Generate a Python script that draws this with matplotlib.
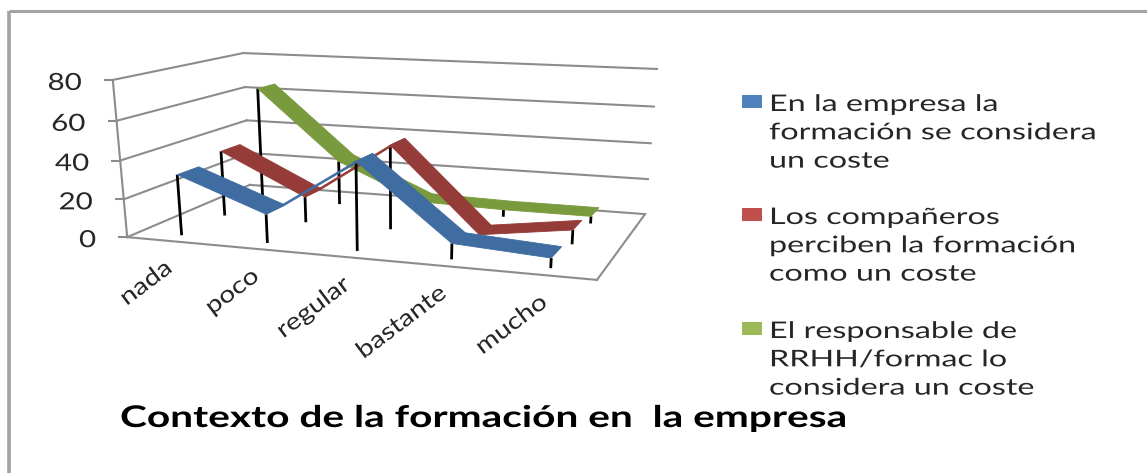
import matplotlib
matplotlib.use('Agg')
import matplotlib.pyplot as plt
import numpy as np
from matplotlib.patches import Polygon, Rectangle
from matplotlib.patheffects import AbstractPathEffect
from matplotlib.transforms import Affine2D

categories = ['nada', 'poco', 'regular', 'bastante', 'mucho']
value_ticks = [0, 20, 40, 60, 80]

empresa = [32, 15, 45, 8, 5]
companeros = [36, 14, 45, 1, 7.5]
responsable = [64, 25, 5, 4, 4]

legend_labels = ['En la empresa la\nformación se considera\nun coste',
                 'Los compañeros\nperciben la formación\ncomo un coste',
                 'El responsable de\nRRHH/formac lo\nconsidera un coste']
chart_title = 'Contexto de la formación en  la empresa'

ribbon_colors = ['#3F6CA1', '#953B38', '#7A9A3E']
legend_colors = ['#4F81BD', '#C0504D', '#9BBB59']
wall_color = '#8C8C8C'
text_color = '#262626'
frame_color = '#A3A3A3'

plt.rcParams['font.family'] = ['Lato', 'DejaVu Sans']

# corners of the plot box: (category pos, depth, value) -> pixel on the figure
box_corners = [((0, 0, 0), (127, 237)),
               ((0, 0, 80), (113, 80)),
               ((0, 1, 0), (250, 185)),
               ((0, 1, 80), (243, 53)),
               ((5, 1, 80), (657, 69)),
               ((5, 1, 0), (645, 214)),
               ((5, 0, 0), (597, 280))]


def fit_camera(corners):
    # direct linear transform, 3x4 camera matrix from the box corners
    rows = []
    for (x, d, v), (px, py) in corners:
        rows.append([x, d, v, 1, 0, 0, 0, 0, -px*x, -px*d, -px*v, -px])
        rows.append([0, 0, 0, 0, x, d, v, 1, -py*x, -py*d, -py*v, -py])
    _, _, vt = np.linalg.svd(np.array(rows, dtype=float))
    return vt[-1].reshape(3, 4)


camera = fit_camera(box_corners)


def project(x, d, v):
    p = camera @ np.array([x, d, v, 1.0])
    return p[0]/p[2], p[1]/p[2]


class WideText(AbstractPathEffect):
    # pulls the glyphs wider along the baseline, the chart's lettering is extended
    def __init__(self, stretch):
        super().__init__()
        self.stretch = stretch

    def draw_path(self, renderer, gc, tpath, affine, rgbFace=None):
        renderer.draw_path(gc, tpath, Affine2D().scale(self.stretch, 1) + affine, rgbFace)


fig = plt.figure(figsize=(11.47, 4.73), dpi=100)
ax = fig.add_axes([0, 0, 1, 1])
ax.set_xlim(0, 1147)
ax.set_ylim(473, 0)
ax.axis('off')
renderer = fig.canvas.get_renderer()


def wide_text(x, y, s, stretch, align='left', **kwargs):
    # the anchor is the start of the baseline, so right aligned text is moved back by its width
    t = ax.text(x, y, s, ha='left', va='baseline', rotation_mode='anchor', **kwargs)
    if align == 'right':
        angle = np.radians(t.get_rotation())
        t.set_rotation(0)
        width = t.get_window_extent(renderer).width*stretch
        t.set_rotation(np.degrees(angle))
        t.set_position((x - width*np.cos(angle), y + width*np.sin(angle)))
    t.set_path_effects([WideText(stretch)])
    return t


# outer frame of the chart
ax.plot([9, 9], [473, 11.5], color=frame_color, lw=2.6, solid_capstyle='butt')
ax.plot([9, 1147], [11.5, 11.5], color=frame_color, lw=2.2, solid_capstyle='butt')


def box_line(p0, p1):
    a, b = project(*p0), project(*p1)
    ax.plot([a[0], b[0]], [a[1], b[1]], color=wall_color, lw=1.5, zorder=1)


# gridlines on side and back walls, plus the floor outline
for v in value_ticks:
    box_line((0, 0, v), (0, 1, v))
    box_line((0, 1, v), (5, 1, v))
box_line((0, 0, 0), (0, 0, 80))
box_line((0, 0, 0), (5, 0, 0))
box_line((5, 0, 0), (5, 1, 0))

for v in value_ticks:
    px, py = project(0, 0, v)
    ax.plot([px - 8, px], [py, py], color=wall_color, lw=1.5, zorder=1)
    wide_text(px - 31, py + 10, str(v), 1.25, align='right', fontsize=17, color=text_color)

for i, cat in enumerate(categories):
    px, py = project(i + 0.5, 0, 0)
    wide_text(px + 4, py + 30, cat, 1.18, align='right', rotation=37, fontsize=17, color=text_color)

# one ribbon per series, back one first so the front ones cover it
ribbon_width = 0.16
series = [(responsable, 0.77, ribbon_colors[2]),
          (companeros, 0.43, ribbon_colors[1]),
          (empresa, 0.09, ribbon_colors[0])]
z = 3
for values, depth, color in series:
    for i, v in enumerate(values):
        top = project(i + 0.5, depth, v)
        bottom = project(i + 0.5, depth, 0)
        ax.plot([top[0], bottom[0]], [top[1], bottom[1]], color='black', lw=2.0, zorder=z,
                solid_capstyle='butt')
    z += 1
    for i in range(len(values) - 1):
        corners = [project(i + 0.5, depth, values[i]),
                   project(i + 1.5, depth, values[i + 1]),
                   project(i + 1.5, depth + ribbon_width, values[i + 1]),
                   project(i + 0.5, depth + ribbon_width, values[i])]
        ax.add_patch(Polygon(corners, closed=True, facecolor=color, edgecolor=color, lw=0.6, zorder=z))
    z += 1

# legend
legend_y = [95, 208, 322]
for label, color, y in zip(legend_labels, legend_colors, legend_y):
    ax.add_patch(Rectangle((742, y), 20, 13, facecolor=color, edgecolor='none'))
    ax.text(769, y - 1, label, ha='left', va='top', fontsize=16.5, color=text_color, linespacing=1.43,
            path_effects=[WideText(1.41)])

wide_text(120, 427, chart_title, 1.36, fontsize=21.5, fontweight='bold', color='black')

plt.savefig('out.png', dpi=100)
